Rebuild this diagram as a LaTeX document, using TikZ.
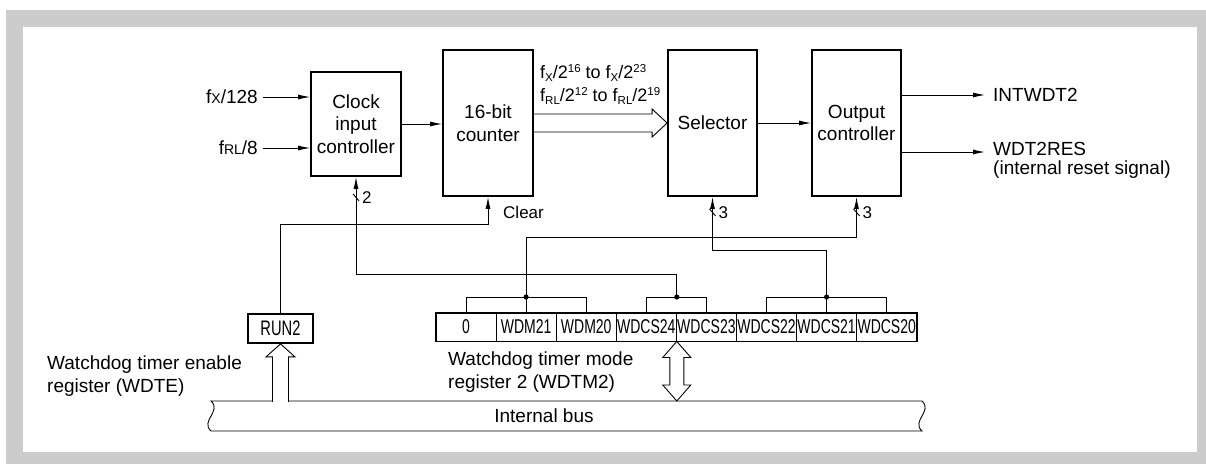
\documentclass[tikz,border=0pt]{standalone}
\usepackage{fontspec}
\setmainfont{Liberation Sans}
\newfontfamily\narrowfont[FakeStretch=0.7]{Liberation Sans}
\usetikzlibrary{arrows.meta}
\newcommand{\supnum}[1]{\raisebox{0.62ex}{\fontsize{11.5}{11.5}\selectfont #1}}
\newcommand{\subtxt}[1]{\raisebox{-0.4ex}{\fontsize{11.5}{11.5}\selectfont #1}}

\begin{document}
\begin{tikzpicture}[x=1pt, y=-1pt,
  every node/.style={font=\fontsize{19}{22.5}\selectfont},
  blk/.style={draw, line width=1.8pt, align=center},
  cell/.style={draw, line width=0.9pt, minimum width=60.1pt, minimum height=28pt, inner sep=0pt, font=\narrowfont\fontsize{20}{20}\selectfont},
  lbl/.style={inner sep=0pt},
  sml/.style={inner sep=0pt, font=\fontsize{17}{17}\selectfont},
  wire/.style={line width=0.9pt},
  sig/.style={wire, -{Latex[length=12pt,width=5pt]}}]

  % frame
  \useasboundingbox (0,0) rectangle (1206,464);
  \fill[gray!40] (6,10) rectangle (1206,464);
  \fill[white] (23,27) rectangle (1197,452);

  % blocks
  \node[blk, minimum width=90pt, minimum height=104pt] (clk) at (356,124) {Clock\\input\\controller};
  \node[blk, minimum width=90pt, minimum height=146pt] (cnt) at (488,123) {16-bit\\counter};
  \node[blk, minimum width=89pt, minimum height=146pt] (sel) at (712.5,123) {Selector};
  \node[blk, minimum width=89pt, minimum height=146pt] (outc) at (856.5,123) {Output\\controller};

  % clock inputs
  \node[lbl, anchor=east] (fx) at (258,97) {f{\fontsize{14}{14}\selectfont X}/128};
  \node[lbl, anchor=east] (frl) at (258,148) {f{\fontsize{14}{14}\selectfont RL}/8};
  \draw[sig] ([xshift=5pt]fx.east) -- (fx.east -| clk.west);
  \draw[sig] ([xshift=5pt]frl.east) -- (frl.east -| clk.west);
  \draw[sig] (clk.east) -- (clk.east -| cnt.west);

  % counter outputs to selector
  \node[lbl, anchor=base west, font=\fontsize{18}{18}\selectfont] (rng1) at (540,78) {f\subtxt{X}/2\supnum{16} to f\subtxt{X}/2\supnum{23}};
  \node[lbl, anchor=base west, font=\fontsize{18}{18}\selectfont] (rng2) at (540,101) {f\subtxt{RL}/2\supnum{12} to f\subtxt{RL}/2\supnum{19}};
  \draw[wire] ([yshift=9pt]cnt.east) -- ([xshift=-15pt,yshift=9pt]sel.west)
    -- ([xshift=-15pt,yshift=14pt]sel.west) -- (sel.west)
    -- ([xshift=-15pt,yshift=-14pt]sel.west) -- ([xshift=-15pt,yshift=-9pt]sel.west)
    -- ([yshift=-9pt]cnt.east);
  \draw[sig] (sel.east) -- (sel.east -| outc.west);

  % outputs
  \node[lbl, anchor=west] (intw) at (993,95) {INTWDT2};
  \node[lbl, anchor=west] (wres) at (993,149) {WDT2RES};
  \node[lbl, anchor=west] (wresn) at (993,170) {(internal reset signal)};
  \draw[sig] (outc.east |- intw.west) -- ([xshift=-8pt]intw.west);
  \draw[sig] (outc.east |- 0,152) -- ([xshift=-8pt]wres.west |- 0,152);

  % WDTM2 register
  \foreach \txt [count=\i from 0] in {0,WDM21,WDM20,WDCS24,WDCS23,WDCS22,WDCS21,WDCS20}
    \node[cell] (r\i) at ({466+60.1*\i},327) {\txt};
  \draw[line width=1.8pt] (r0.north west) rectangle (r7.south east);
  \draw[line width=1.8pt] (r0.north east) -- (r0.south east);
  \node[lbl, anchor=north west, align=left] (wdtm) at (448,352) {Watchdog timer mode\\register 2 (WDTM2)};

  % RUN2 register
  \node[draw, line width=1.8pt, minimum width=65pt, minimum height=29pt, inner sep=0pt,
    font=\narrowfont\fontsize{21}{21}\selectfont] (run) at (280.5,328.5) {RUN2};
  \node[lbl, anchor=north west, align=left] (wdte) at (47,356) {Watchdog timer enable\\register (WDTE)};

  % levels
  \coordinate (lvR) at (0,224);
  \coordinate (lvO) at (0,237);
  \coordinate (lvS) at (0,250);
  \coordinate (lvC) at (0,274);
  \coordinate (lvB) at (0,297);
  \coordinate (bustop) at (0,401);

  % brackets
  \coordinate (dm) at (r1.north |- lvB);
  \coordinate (dws) at (r3.north east |- lvB);
  \coordinate (dcs) at (r6.north |- lvB);
  \draw[wire] (r0.north) -- (r0.north |- dm) -- (r2.north |- dm) -- (r2.north);
  \draw[wire] (dm) -- (r1.north);
  \draw[wire] (r3.north) -- (r3.north |- dws) -- (r4.north |- dws) -- (r4.north);
  \draw[wire] (r5.north) -- (r5.north |- dcs) -- (r7.north |- dcs) -- (r7.north);
  \draw[wire] (dcs) -- (r6.north);
  \fill (dm) circle (2.6pt);
  \fill (dws) circle (2.6pt);
  \fill (dcs) circle (2.6pt);

  % control lines
  \draw[sig] (dm) -- (dm |- lvO) -| (outc.south);
  \draw[sig] (dcs) -- (dcs |- lvS) -| (sel.south);
  \draw[sig] (dws) -- (dws |- lvC) -| (clk.south);
  \draw[sig] (run.north) -- (run.north |- lvR) -| (cnt.south);

  \draw[wire] ([xshift=-3pt,yshift=-17pt]clk.south) -- ([xshift=3pt,yshift=-24pt]clk.south);
  \node[sml, anchor=west] (nclk) at ([xshift=6pt,yshift=-21pt]clk.south) {2};
  \draw[wire] ([xshift=-3pt,yshift=-12pt]sel.south) -- ([xshift=3pt,yshift=-19pt]sel.south);
  \node[sml, anchor=west] (nsel) at ([xshift=6pt,yshift=-16pt]sel.south) {3};
  \draw[wire] ([xshift=-3pt,yshift=-12pt]outc.south) -- ([xshift=3pt,yshift=-19pt]outc.south);
  \node[sml, anchor=west] (nout) at ([xshift=6pt,yshift=-16pt]outc.south) {3};
  \node[sml, anchor=west] (clr) at ([xshift=15pt,yshift=-16pt]cnt.south) {Clear};

  % internal bus
  \draw[wire, fill=white] (211,401) -- (922,401) .. controls (933,411) and (911,421) .. (922,431)
    -- (211,431) .. controls (200,421) and (222,411) .. (211,401) -- cycle;
  \node[lbl] (busl) at (544,416) {Internal bus};

  \coordinate (rb) at (run.south |- bustop);
  \draw[wire, preaction={fill=white}] ([xshift=-8pt,yshift=-0.8pt]rb) -- ([xshift=-8pt,yshift=-13pt]run.south)
    -- ([xshift=-14.5pt,yshift=-13pt]run.south) -- (run.south)
    -- ([xshift=14.5pt,yshift=-13pt]run.south) -- ([xshift=8pt,yshift=-13pt]run.south)
    -- ([xshift=8pt,yshift=-0.8pt]rb);

  \coordinate (mt) at (r3.south east);
  \coordinate (mb) at (mt |- bustop);
  \draw[wire, fill=white] (mt) -- ([xshift=14pt,yshift=-16pt]mt) -- ([xshift=7pt,yshift=-16pt]mt)
    -- ([xshift=7pt,yshift=16pt]mb) -- ([xshift=14pt,yshift=16pt]mb) -- (mb)
    -- ([xshift=-14pt,yshift=16pt]mb) -- ([xshift=-7pt,yshift=16pt]mb)
    -- ([xshift=-7pt,yshift=-16pt]mt) -- ([xshift=-14pt,yshift=-16pt]mt) -- cycle;
\end{tikzpicture}
\end{document}
